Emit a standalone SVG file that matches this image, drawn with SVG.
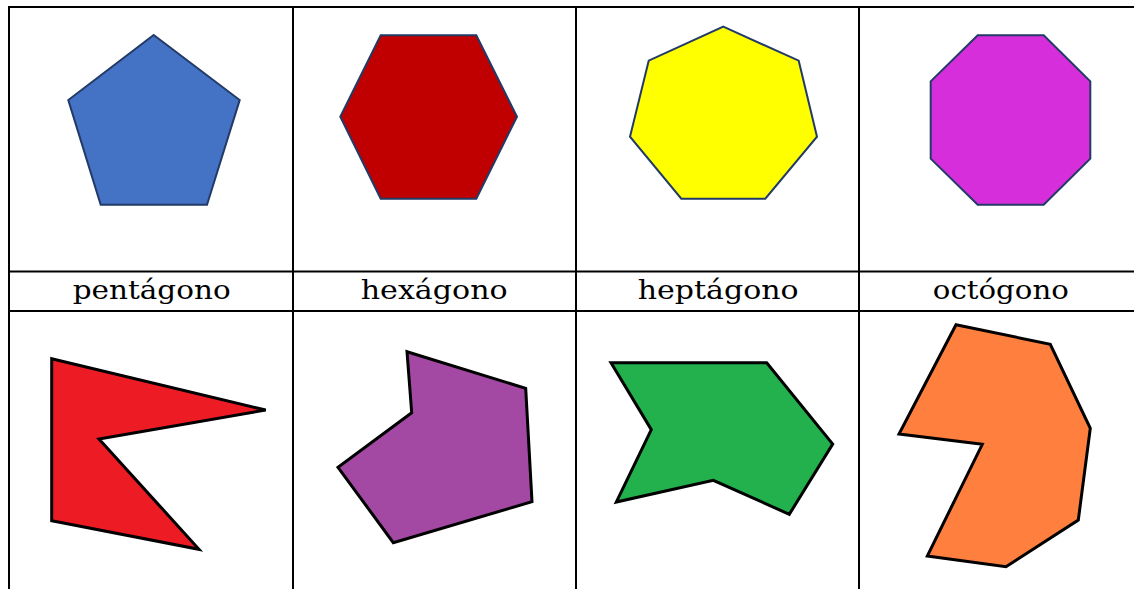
<svg xmlns="http://www.w3.org/2000/svg" width="1134" height="589" viewBox="0 0 1134 589">
<style>
.grid{stroke:#000;stroke-width:2;fill:none}
.reg{stroke:#223a66;stroke-width:2;stroke-linejoin:miter}
.irr{stroke:#000;stroke-width:3;stroke-linejoin:miter}
.lbl{font-family:"DejaVu Serif","Liberation Serif",serif;font-size:26px;fill:#000;text-anchor:middle}
</style>
<rect width="1134" height="589" fill="#fff"/>
<g id="grid" class="grid">
<line x1="8" y1="7" x2="1134" y2="7"/>
<line x1="8" y1="271.5" x2="1134" y2="271.5"/>
<line x1="8" y1="311" x2="1134" y2="311"/>
<line x1="9" y1="6" x2="9" y2="589"/>
<line x1="293" y1="6" x2="293" y2="589"/>
<line x1="576" y1="6" x2="576" y2="589"/>
<line x1="859" y1="6" x2="859" y2="589"/>
</g>
<g id="pentagon"><polygon class="reg" fill="#4472C4" points="153.7,35 239.7,100 207,204.7 100.7,204.7 68.3,100"/></g>
<g id="hexagon"><polygon class="reg" fill="#C00000" points="380.7,35.3 476.3,35.3 517,116.7 476.3,198.7 380.7,198.7 340.3,116.7"/></g>
<g id="heptagon"><polygon class="reg" fill="#FFFF00" points="723.3,26.7 798.7,60.7 817,136.7 765.3,198.7 681.3,198.7 630,136.7 648.7,60.7"/></g>
<g id="octagon"><polygon class="reg" fill="#D62EDB" points="977.7,35.3 1043.7,35.3 1090.3,81.3 1090.3,158.7 1043.7,204.7 977.7,204.7 930.7,158.7 930.7,81.3"/></g>
<g id="label-pentagono"><text class="lbl" x="151.7" y="299" textLength="158" lengthAdjust="spacingAndGlyphs">pentágono</text></g>
<g id="label-hexagono"><text class="lbl" x="434.2" y="299" textLength="147" lengthAdjust="spacingAndGlyphs">hexágono</text></g>
<g id="label-heptagono"><text class="lbl" x="718.2" y="299" textLength="161" lengthAdjust="spacingAndGlyphs">heptágono</text></g>
<g id="label-octogono"><text class="lbl" x="1000.8" y="299" textLength="136" lengthAdjust="spacingAndGlyphs">octógono</text></g>
<g id="irregular-pentagon"><polygon class="irr" fill="#ED1C24" points="51.7,358.7 265.7,410 99,439 199,549.3 51.7,520.7"/></g>
<g id="irregular-hexagon"><polygon class="irr" fill="#A349A4" points="407,351.7 525.7,388.3 532,501.7 393.3,542.7 338,467.3 411.7,412.7"/></g>
<g id="irregular-heptagon"><polygon class="irr" fill="#22B14C" points="611,362.7 766.7,362.7 832.7,444 789.3,514.3 713.3,480.3 616.3,502 651.3,429.7"/></g>
<g id="irregular-octagon"><polygon class="irr" fill="#FF7F3F" points="956,324.7 1050.3,344.3 1090.3,428.3 1078.3,520 1006,566.7 927.3,556 982.3,444.3 899,434"/></g>
</svg>
